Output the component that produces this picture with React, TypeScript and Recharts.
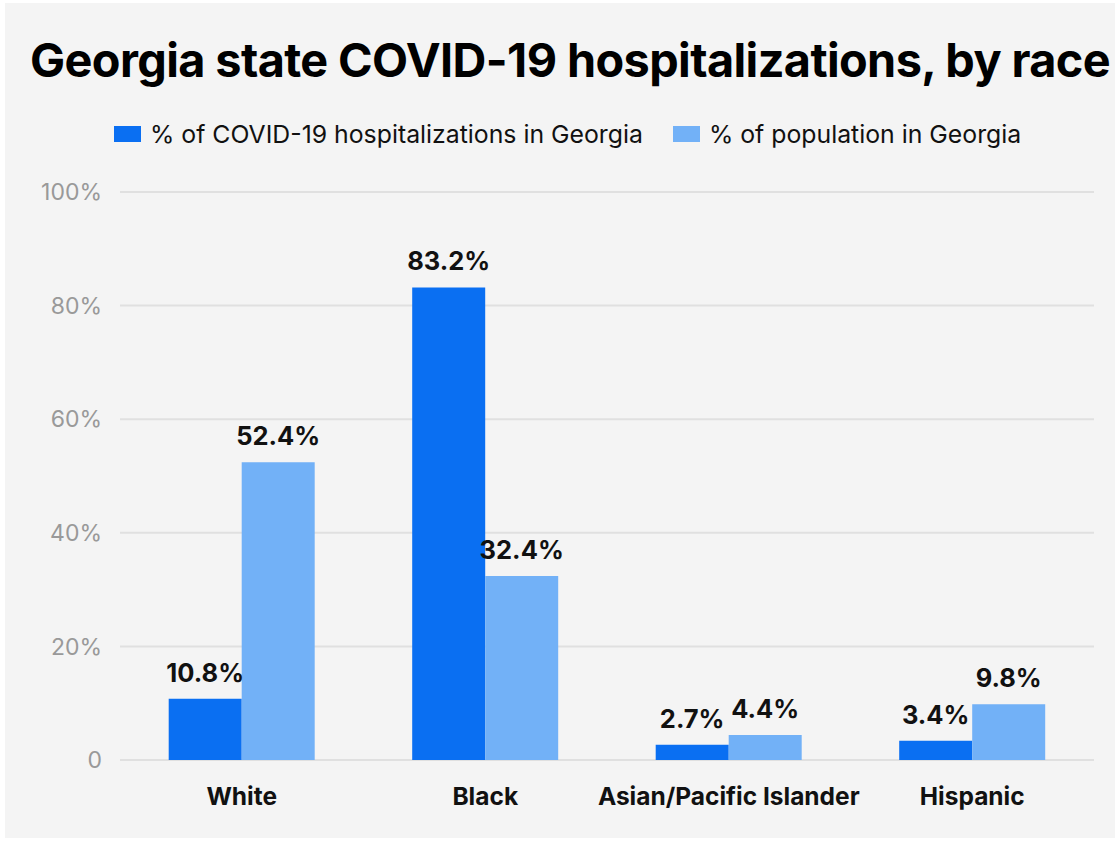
import { BarChart, Bar, XAxis, YAxis, CartesianGrid, LabelList } from "recharts"

const races = ["White", "Black", "Asian/Pacific Islander", "Hispanic"]
const hospitalized = [10.8, 83.2, 2.7, 3.4]
const population = [52.4, 32.4, 4.4, 9.8]
const yTicks = [0, 20, 40, 60, 80, 100]

const series = [
  { key: "hosp", name: "% of COVID-19 hospitalizations in Georgia", color: "#0a6ff2" },
  { key: "pop", name: "% of population in Georgia", color: "#72b1f7" },
]

const data = races.map((race, i) => ({
  race,
  hosp: hospitalized[i],
  pop: population[i],
}))

const font = "Inter, 'Noto Sans', sans-serif"

// legend drawn as plain html so it doesn't push the plot area down
function LegendBox() {
  return (
    <div
      style={{
        position: "absolute",
        top: 119,
        left: 114,
        display: "flex",
        alignItems: "center",
        fontFamily: font,
        fontSize: 24.8,
        color: "#111",
        whiteSpace: "nowrap",
      }}
    >
      {series.map((s, i) => (
        <div key={s.key} style={{ display: "flex", alignItems: "center", marginRight: i === 0 ? 30 : 0 }}>
          <span style={{ width: 27, height: 16, background: s.color, display: "inline-block", marginRight: 9 }} />
          <span>{s.name}</span>
        </div>
      ))}
    </div>
  )
}

export default function App() {
  return (
    <div style={{ position: "absolute", left: 0, top: 0, width: 1120, height: 843, background: "#fff" }}>
      <div style={{ position: "absolute", left: 5, top: 3, width: 1110, height: 835, background: "#f4f4f4" }} />
      <div
        style={{
          position: "absolute",
          left: 30,
          top: 32,
          whiteSpace: "nowrap",
          fontFamily: font,
          fontWeight: 700,
          fontSize: 46.8,
          color: "#000",
          letterSpacing: -0.6,
        }}
      >
        Georgia state COVID-19 hospitalizations, by race
      </div>
      <LegendBox />
      <div style={{ position: "absolute", left: 0, top: 0 }}>
        <BarChart
          width={1120}
          height={843}
          data={data}
          margin={{ top: 192, right: 26, bottom: 53, left: 20 }}
          barCategoryGap="20%"
          barGap={0}
        >
          <CartesianGrid vertical={false} stroke="#e0e0e0" strokeWidth={2} />
          <XAxis
            dataKey="race"
            axisLine={false}
            tickLine={false}
            tickSize={0}
            tickMargin={28}
            interval={0}
            tick={{ fill: "#111", fontSize: 24.5, fontWeight: 700, fontFamily: font }}
          />
          <YAxis
            width={100}
            domain={[0, 100]}
            ticks={yTicks}
            axisLine={false}
            tickLine={false}
            tickSize={0}
            tickMargin={18}
            tickFormatter={(v: number) => (v === 0 ? "0" : `${v}%`)}
            tick={{ fill: "#999", fontSize: 23, fontFamily: font }}
          />
          {series.map((s) => (
            <Bar key={s.key} dataKey={s.key} name={s.name} fill={s.color} isAnimationActive={false}>
              <LabelList
                dataKey={s.key}
                position="top"
                offset={17}
                formatter={(v: number) => `${v}%`}
                style={{ fill: "#111", fontSize: 25.5, fontWeight: 700, fontFamily: font }}
              />
            </Bar>
          ))}
        </BarChart>
      </div>
    </div>
  )
}
